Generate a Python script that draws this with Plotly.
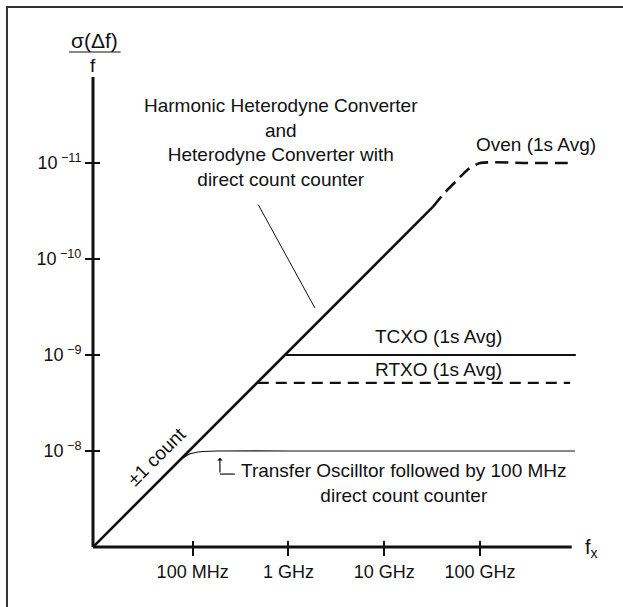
import plotly.graph_objects as go

# x = log10(frequency / Hz), y = -log10(sigma(df)/f)
count_x = [6.96, 10.51]
count_y = [7.0, 10.545]
oven_x = [10.51, 10.63, 10.76, 10.87, 11.0, 11.5, 11.99]
oven_y = [10.545, 10.69, 10.82, 10.93, 11.0, 11.0, 11.0]
tcxo_x = [8.96, 12.0]
tcxo_y = [9.0, 9.0]
rtxo_x = [8.68, 11.94]
rtxo_y = [8.71, 8.71]
transfer_x = [7.87, 7.96, 8.08, 8.25, 9.0, 11.99]
transfer_y = [7.91, 7.965, 7.992, 8.0, 8.0, 8.0]

x_ticks = [8, 9, 10, 11]
x_labels = ["100 MHz", "1 GHz", "10 GHz", "100 GHz"]
y_ticks = [8, 9, 10, 11]
y_labels = ["10<sup> −8</sup>", "10<sup> −9</sup>", "10<sup> −10</sup>", "10<sup> −11</sup>"]

X_RANGE = [6.96, 12.033]
Y_RANGE = [7.0, 11.896]
FONT = "Liberation Sans, Arial, sans-serif"
INK = "#111111"


def line(x, y, width, dash="solid", shape="linear"):
    return go.Scatter(x=x, y=y, mode="lines",
                      line=dict(color=INK, width=width, dash=dash, shape=shape, smoothing=0.6),
                      hoverinfo="skip", showlegend=False)


fig = go.Figure()
fig.add_trace(line(count_x, count_y, 2.6))
fig.add_trace(line(oven_x, oven_y, 2.6, dash="13px,7px", shape="spline"))
fig.add_trace(line(tcxo_x, tcxo_y, 2.2))
fig.add_trace(line(rtxo_x, rtxo_y, 2.2, dash="11px,7px"))
fig.add_trace(line(transfer_x, transfer_y, 1.2, shape="spline"))

axis_common = dict(showgrid=False, zeroline=False, showline=False, tickwidth=1.5, tickcolor=INK)
fig.update_layout(
    width=623, height=607,
    margin=dict(l=93, r=44, t=77, b=60),
    paper_bgcolor="white", plot_bgcolor="white",
    font=dict(family=FONT, size=19, color=INK),
    xaxis=dict(range=X_RANGE, tickvals=x_ticks, ticktext=x_labels, ticks="outside", ticklen=8,
               tickfont=dict(size=18), **axis_common),
    yaxis=dict(range=Y_RANGE, tickvals=y_ticks, ticktext=y_labels, ticks="outside", ticklen=7,
               tickfont=dict(size=18), **axis_common),
    xaxis2=dict(range=X_RANGE, tickvals=x_ticks, ticks="inside", ticklen=6, showticklabels=False,
                overlaying="x", anchor="y", **axis_common),
    yaxis2=dict(range=Y_RANGE, tickvals=y_ticks, ticks="inside", ticklen=7, showticklabels=False,
                overlaying="y", anchor="x", side="left", **axis_common),
)
fig.add_trace(go.Scatter(x=[None], y=[None], xaxis="x2", yaxis="y2", showlegend=False))

# axis lines, frame, fraction bar, leader lines
fig.add_shape(type="line", xref="paper", yref="paper", x0=0, x1=0, y0=0, y1=1, line=dict(color=INK, width=3))
fig.add_shape(type="line", xref="paper", yref="paper", x0=0, x1=0.985, y0=0, y1=0, line=dict(color=INK, width=3))
fig.add_shape(type="rect", xref="paper", yref="paper", x0=-0.177, x1=1.2, y0=-0.2, y1=1.149,
              line=dict(color="#333333", width=2))
fig.add_shape(type="line", xref="paper", yref="paper", x0=-0.049, x1=0.057, y0=1.0532, y1=1.0532,
              line=dict(color=INK, width=1.2))
fig.add_shape(type="line", xref="x", yref="y", x0=8.685, y0=10.566, x1=9.276, y1=9.49,
              line=dict(color=INK, width=1))
fig.add_shape(type="line", xref="x", yref="y", x0=8.285, y0=7.76, x1=8.44, y1=7.76,
              line=dict(color=INK, width=1.2))
fig.add_annotation(x=8.285, y=7.93, ax=8.285, ay=7.76, axref="x", ayref="y", text="",
                   showarrow=True, arrowhead=1, arrowsize=0.8, arrowwidth=1.2, arrowcolor=INK)

labels = [
    (8.92, 11.21, "Harmonic Heterodyne Converter<br>and<br>Heterodyne Converter with<br>direct count counter", 0),
    (11.584, 11.19, "Oven (1s Avg)", 0),
    (10.564, 9.198, "TCXO (1s Avg)", 0),
    (10.564, 8.844, "RTXO (1s Avg)", 0),
    (10.206, 7.667, "Transfer Oscilltor followed by 100 MHz<br>direct count counter", 0),
    (7.625, 7.94, "±1 count", -45),
]
for x, y, text, angle in labels:
    fig.add_annotation(x=x, y=y, text=text, showarrow=False, textangle=angle,
                       xanchor="center", yanchor="middle", align="center")

fig.add_annotation(xref="paper", yref="paper", x=0.004, y=1.0787, text="σ(Δf)", showarrow=False,
                   font=dict(size=21), xanchor="center", yanchor="middle")
fig.add_annotation(xref="paper", yref="paper", x=0.0006, y=1.0255, text="f", showarrow=False,
                   font=dict(size=19), xanchor="center", yanchor="middle")
fig.add_annotation(xref="paper", yref="paper", x=1.008, y=-0.004, text="f<sub>x</sub>", showarrow=False,
                   font=dict(size=20), xanchor="left", yanchor="middle")

# the page body has a default margin; drop it so the figure sits at the window corner
fig.write_html("out.html", config={"displayModeBar": False},
               post_script="document.body.style.margin = '0';")
